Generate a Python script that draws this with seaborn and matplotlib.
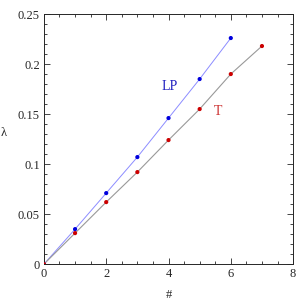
import matplotlib
matplotlib.use("Agg")
import matplotlib.pyplot as plt
import seaborn as sns
import pandas as pd
from matplotlib.ticker import MultipleLocator

# data
lp_x = [0, 1, 2, 3, 4, 5, 6]
lp_y = [0, 0.035, 0.071, 0.107, 0.146, 0.185, 0.226]
t_x = [0, 1, 2, 3, 4, 5, 6, 7]
t_y = [0, 0.031, 0.062, 0.092, 0.124, 0.155, 0.190, 0.218]

x_ticks = [0, 2, 4, 6, 8]
y_ticks = [0, 0.05, 0.1, 0.15, 0.2, 0.25]
y_tick_labels = ["0", "0.05", "0.1", "0.15", "0.2", "0.25"]

lp = pd.DataFrame({"n": lp_x, "lam": lp_y})
t = pd.DataFrame({"n": t_x, "lam": t_y})

sns.set_style("ticks")
plt.rcParams["font.family"] = ["Liberation Serif", "DejaVu Serif"]

fig = plt.figure(figsize=(3.05, 3.05), dpi=100)
ax = fig.add_axes([0.144, 0.134, 0.817, 0.820])

sns.lineplot(data=lp, x="n", y="lam", ax=ax, color="#8c8cff", lw=0.7)
sns.lineplot(data=t, x="n", y="lam", ax=ax, color="#999999", lw=0.8)
sns.scatterplot(data=lp, x="n", y="lam", ax=ax, color="#0000dd", s=9,
                edgecolor="none", zorder=3)
sns.scatterplot(data=t, x="n", y="lam", ax=ax, color="#cc0000", s=9,
                edgecolor="none", zorder=3)

ax.text(4.05, 0.178, "LP", color="#2020c0", fontsize=10, ha="center", va="center")
ax.text(5.6, 0.153, "T", color="#cc3030", fontsize=10, ha="center", va="center")

ax.set_xlim(0, 8)
ax.set_ylim(0, 0.25)
ax.set_xticks(x_ticks)
ax.set_xticklabels([str(v) for v in x_ticks])
ax.set_yticks(y_ticks)
ax.set_yticklabels(y_tick_labels)
ax.xaxis.set_minor_locator(MultipleLocator(0.5))
ax.yaxis.set_minor_locator(MultipleLocator(0.01))
ax.tick_params(which="both", direction="in", top=True, right=True,
               labelsize=9, width=0.6, pad=3)
ax.tick_params(which="major", length=4)
ax.tick_params(which="minor", length=2)
for s in ax.spines.values():
    s.set_linewidth(0.7)

ax.set_xlabel("#", fontsize=9, labelpad=6)
ax.set_ylabel("λ", fontsize=9, rotation=0, labelpad=10)

fig.savefig("out.png", dpi=100)
